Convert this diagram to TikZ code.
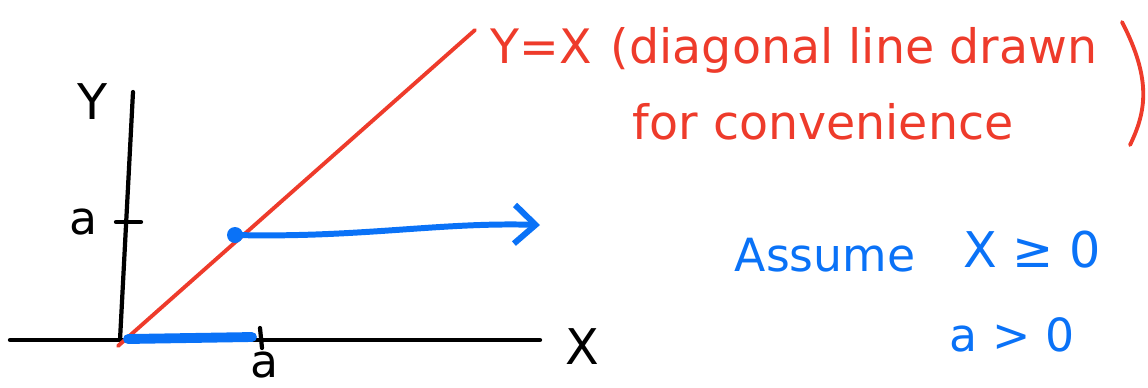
\documentclass[tikz,border=0pt]{standalone}
\usepackage{fontspec}
\setmainfont{DejaVu Sans}
\definecolor{inkred}{HTML}{EE3B2B}
\definecolor{inkblue}{HTML}{0A72F7}
\usetikzlibrary{arrows.meta, positioning}

\tikzset{
  axis/.style={line width=1.2pt, line cap=round},
  diag/.style={inkred, line width=1.1pt, line cap=round},
  path blue/.style={inkblue, line width=1.7pt, line cap=round},
  redtext/.style={text=inkred, font=\fontsize{13.5}{16}\selectfont, inner sep=0pt},
  bluetext/.style={text=inkblue, font=\fontsize{14}{17}\selectfont, inner sep=0pt},
  axlabel/.style={font=\fontsize{14}{17}\selectfont, inner sep=0pt},
  ticklabel/.style={font=\fontsize{13}{16}\selectfont, inner sep=0pt},
}

\begin{document}
\begin{tikzpicture}[x=0.01cm, y=-0.01cm]
    \useasboundingbox (0,0) rectangle (1148,387);

    % axes
    \coordinate (O) at (120,340);
    \coordinate (xl) at (10,340);
    \coordinate (xr) at (540,340);
    \coordinate (yt) at (133,92);
    \draw[axis] (xl) -- (xr);
    \draw[axis] (O) -- (yt);
    \node[axlabel] (X) at (582,347) {X};
    \node[axlabel] (Y) at (93,102) {Y};

    % ticks
    \draw[axis] (116,222) -- (141,222);
    \draw[axis] (260,328) -- (262,348);
    \node[ticklabel] (ay) at (84,222) {a};
    \node[ticklabel] (ax) at (265,365) {a};

    % y = x
    \coordinate (dbot) at (118,346);
    \coordinate (dtop) at (475,30);
    \draw[diag] (dbot) -- (dtop);

    % blue set
    \coordinate (p) at (235,235);
    \coordinate (pend) at (540,225);
    \fill[inkblue] (p) circle (8);
    \draw[path blue, -{Straight Barb[length=6pt, width=11pt, line width=1.7pt]}]
      (p) .. controls (360,238) and (440,222) .. (pend);
    \draw[inkblue, line width=2.8pt, line cap=round] (128,339) -- (252,337);

    % notes
    \node[redtext, anchor=west] (note1) at (490,50) {Y=X\hspace{0.4em}(diagonal line drawn};
    \node[redtext, anchor=west] (note2) at (632,122) {for convenience};
    \draw[inkred, line width=1.1pt, line cap=round]
      (1122,22) .. controls (1152,80) and (1146,112) .. (1130,145);
    \node[bluetext, font=\fontsize{13}{16}\selectfont] (assume) at (825,255) {Assume};
    \node[bluetext] (xge) at (1032,250) {X ≥ 0};
    \node[bluetext, font=\fontsize{13}{16}\selectfont] (agt) at (1012,335) {a > 0};
  \end{tikzpicture}
\end{document}
